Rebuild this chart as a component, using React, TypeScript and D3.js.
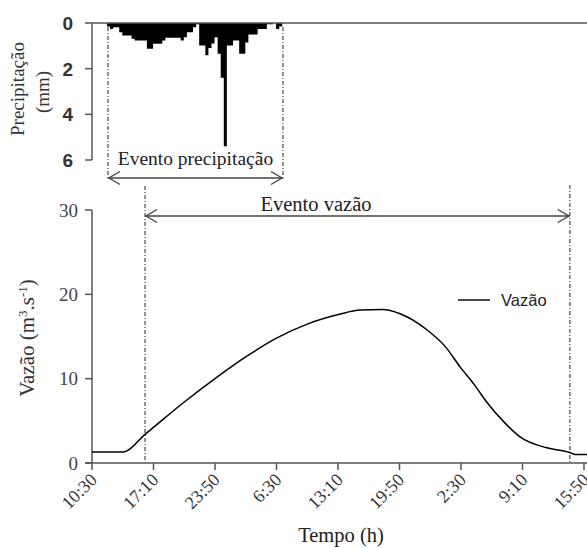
import React from "react";
import * as d3 from "d3";

const timeTickLabels = ["10:30", "17:10", "23:50", "6:30", "13:10", "19:50", "2:30", "9:10", "15:50"];
const timeTickHours = [0, 6.667, 13.333, 20, 26.667, 33.333, 40, 46.667, 53.333];

const flowHours = [0, 3.36, 5.75, 9.97, 13.33, 16.7, 20.0, 23.4, 26.7, 29.05, 31.5, 33.4, 36.3, 38.3, 39.9, 41.5, 42.8, 44.8, 46.4, 49.3, 51.8, 52.4, 54.5];
const flowValues = [1.3, 1.3, 3.4, 7.2, 10.0, 12.6, 14.8, 16.5, 17.6, 18.15, 18.2, 17.7, 15.8, 13.8, 11.4, 9.2, 7.2, 4.7, 3.1, 1.8, 1.25, 1.0, 1.0];

const precipStartHour = 1.62;
const precipStepHour = 1 / 3;
const precipValues = [
  0.15, 0.26, 0.19, 0.19, 0.4, 0.55, 0.55, 0.55, 0.69, 0.77,
  0.77, 0.77, 0.77, 1.13, 1.13, 0.91, 0.91, 0.91, 0.77, 0.65,
  0.65, 0.65, 0.65, 0.65, 0.77, 0.62, 0.4, 0.4, 0.19, 0.05,
  0.98, 0.98, 1.41, 1.1, 0.9, 0.62, 1.35, 2.4, 5.4, 0.98,
  0.98, 0.77, 0.77, 1.35, 1.35, 0.85, 0.5, 0.5, 0.5, 0.26,
  0.26, 0.26, 0.05, 0.05, 0, 0.26, 0.15,
];

const precipTicks = [0, 2, 4, 6];
const flowTicks = [0, 10, 20, 30];
const precipEvent = [1.73, 20.7];
const flowEvent = [5.75, 51.8];

export default function App() {
  const W = 587, H = 548;
  const x = d3.scaleLinear().domain([0, 53.333]).range([92, 584]);
  const yP = d3.scaleLinear().domain([0, 6]).range([23, 160]);
  const yF = d3.scaleLinear().domain([0, 30]).range([463, 210]);
  const axis = "#555";
  const serif = "'Liberation Serif', 'Times New Roman', serif";
  const sans = "'Liberation Sans', Arial, sans-serif";

  const flowData = flowHours.map((h, i) => [h, flowValues[i]] as [number, number]);
  const line = d3.line<[number, number]>()
    .x(d => x(d[0]))
    .y(d => yF(d[1]))
    .curve(d3.curveMonotoneX);

  const precipData: [number, number][] = precipValues.map((v, i) => [precipStartHour + i * precipStepHour, v]);
  precipData.push([precipStartHour + precipValues.length * precipStepHour, 0]);
  const precipArea = d3.area<[number, number]>()
    .x(d => x(d[0]))
    .y0(yP(0))
    .y1(d => yP(d[1]))
    .curve(d3.curveStepAfter);

  const arrow = (x1: number, x2: number, y: number) => (
    <g stroke="#444" strokeWidth={1.4} fill="none">
      <line x1={x1} x2={x2} y1={y} y2={y} />
      <polyline points={`${x1 + 12},${y - 6.5} ${x1 + 1},${y} ${x1 + 12},${y + 6.5}`} />
      <polyline points={`${x2 - 12},${y - 6.5} ${x2 - 1},${y} ${x2 - 12},${y + 6.5}`} />
    </g>
  );

  return (
    <svg width={W} height={H} style={{ display: "block", position: "absolute", left: 0, top: 0 }}>
      <rect width={W} height={H} fill="#fff" />
      {/* Precipitation bars */}
      <path d={precipArea(precipData) || ""} fill="#000" />
      {/* Top axes */}
      <line x1={92} x2={W} y1={yP(0)} y2={yP(0)} stroke={axis} strokeWidth={1.5} />
      <line x1={92} x2={92} y1={yP(0)} y2={yP(6)} stroke={axis} strokeWidth={1.5} />
      {precipTicks.map(t => (
        <g key={t}>
          <line x1={85} x2={92} y1={yP(t)} y2={yP(t)} stroke={axis} strokeWidth={1.5} />
          <text x={73} y={yP(t)} dy="0.36em" textAnchor="end" fontFamily={sans} fontWeight="bold" fontSize={19} fill="#333">{t}</text>
        </g>
      ))}
      <text transform={`translate(24,89) rotate(-90)`} textAnchor="middle" fontFamily={serif} fontSize={19} fill="#333">Precipitação</text>
      <text transform={`translate(49,92) rotate(-90)`} textAnchor="middle" fontFamily={serif} fontSize={19} fill="#333">(mm)</text>

      {/* Precip event lines */}
      <g stroke="#555" strokeWidth={1.3} strokeDasharray="4,2,1,2">
        <line x1={x(precipEvent[0])} x2={x(precipEvent[0])} y1={27} y2={180} />
        <line x1={x(precipEvent[1])} x2={x(precipEvent[1])} y1={27} y2={180} />
      </g>
      <text x={(x(precipEvent[0]) + x(precipEvent[1])) / 2} y={165} textAnchor="middle" fontFamily={serif} fontSize={19.5} fill="#222">Evento precipitação</text>
      {arrow(x(precipEvent[0]), x(precipEvent[1]), 178)}

      {/* Flow event lines */}
      <g stroke="#555" strokeWidth={1.3} strokeDasharray="4,2,1,2">
        <line x1={x(flowEvent[0])} x2={x(flowEvent[0])} y1={186} y2={yF(0)} />
        <line x1={x(flowEvent[1])} x2={x(flowEvent[1])} y1={185} y2={yF(0)} />
      </g>
      {arrow(x(flowEvent[0]), x(flowEvent[1]), 216)}
      <text x={316} y={211} textAnchor="middle" fontFamily={serif} fontSize={20.5} fill="#222">Evento vazão</text>

      {/* Bottom axes */}
      <line x1={92} x2={92} y1={yF(30)} y2={yF(0)} stroke={axis} strokeWidth={1.5} />
      <line x1={85} x2={W} y1={yF(0)} y2={yF(0)} stroke={axis} strokeWidth={1.5} />
      {flowTicks.map(t => (
        <g key={t}>
          <line x1={85} x2={92} y1={yF(t)} y2={yF(t)} stroke={axis} strokeWidth={1.5} />
          <text x={78} y={yF(t)} dy="0.35em" textAnchor="end" fontFamily={serif} fontSize={19} fill="#444">{t}</text>
        </g>
      ))}
      {timeTickHours.map((h, i) => (
        <g key={i}>
          <line x1={x(h)} x2={x(h)} y1={yF(0)} y2={yF(0) + 7} stroke={axis} strokeWidth={1.5} />
          <text transform={`translate(${x(h) + 6},${yF(0) + 18}) rotate(-45)`} textAnchor="end" fontFamily={serif} fontSize={18} fill="#333">{timeTickLabels[i]}</text>
        </g>
      ))}
      <text transform={`translate(34,338) rotate(-90)`} textAnchor="middle" fontFamily={serif} fontSize={21} fill="#333">
        Vazão (m<tspan dy={-7} fontSize={13}>3</tspan><tspan dy={7}>.s</tspan><tspan dy={-7} fontSize={13}>-1</tspan><tspan dy={7}>)</tspan>
      </text>
      <text x={341} y={542} textAnchor="middle" fontFamily={serif} fontSize={20.5} fill="#222">Tempo (h)</text>

      {/* Flow curve */}
      <path d={line(flowData) || ""} fill="none" stroke="#000" strokeWidth={1.5} />

      {/* Legend */}
      <line x1={458} x2={490} y1={300} y2={300} stroke="#111" strokeWidth={1.5} />
      <text x={501} y={306} fontFamily={sans} fontSize={16.5} fill="#222">Vazão</text>
    </svg>
  );
}
